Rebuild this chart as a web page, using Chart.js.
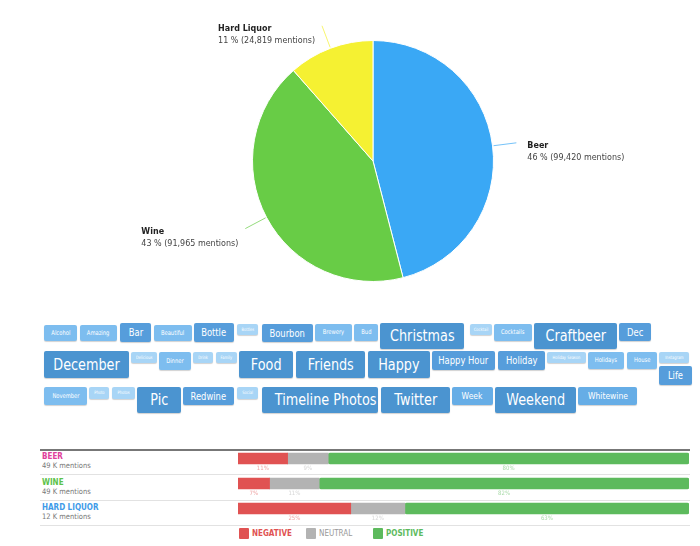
<!DOCTYPE html>
<html>
<head>
<meta charset="utf-8">
<script src="https://cdn.jsdelivr.net/npm/chart.js@4.4.0/dist/chart.umd.min.js"></script>
<style>
  body { margin: 0; background: #fff; width: 700px; height: 546px; position: relative; overflow: hidden; font-family: "DejaVu Sans", sans-serif; }
  #pie { position: absolute; left: 0; top: 0; }
  #bars { position: absolute; left: 238px; top: 446px; }
  .tag { position: absolute; color: #fff; text-align: center; border-radius: 2px; white-space: nowrap; overflow: hidden;
         font-family: "DejaVu Sans", sans-serif; box-shadow: 0 1px 1px rgba(0,0,0,0.18); }
  .tag span { display: inline-block; transform: scaleX(0.8); }
  .rule { position: absolute; left: 40px; width: 650px; height: 1px; background: #e2e2e2; }
  .cond { font-family: "DejaVu Sans Condensed", "Liberation Sans Narrow", sans-serif; font-stretch: condensed; }
  .rowname { position: absolute; left: 42px; font-size: 8px; font-weight: bold; line-height: 10px; }
  .rowsub { position: absolute; left: 42px; font-size: 7.5px; color: #777; line-height: 10px; }
  .lgbox { position: absolute; top: 528px; width: 10px; height: 11px; border-radius: 1px; }
  .lgtext { position: absolute; top: 529px; font-size: 8px; line-height: 10px; }
</style>
</head>
<body>
<canvas id="pie" width="700" height="300"></canvas>
<div id="cloud"></div>
<div id="rows"></div>
<canvas id="bars" width="451" height="75"></canvas>

<script>
// pie data
const pieLabels = ['Beer', 'Wine', 'Hard Liquor'];
const pieMentions = [99420, 91965, 24819];
const pieColors = ['#3aa8f5', '#68cc46', '#f5f132'];

// tag cloud: words and weights (1 = rare ... 5 = frequent)
const tagWords = ['Alcohol', 'Amazing', 'Bar', 'Beautiful', 'Bottle', 'Bottles', 'Bourbon', 'Brewery', 'Bud', 'Christmas',
  'Cocktail', 'Cocktails', 'Craftbeer', 'Dec', 'December', 'Delicious', 'Dinner', 'Drink', 'Family', 'Food', 'Friends',
  'Happy', 'Happy Hour', 'Holiday', 'Holiday Season', 'Holidays', 'House', 'Instagram', 'Life', 'November', 'Photo',
  'Photos', 'Pic', 'Redwine', 'Social', 'Timeline Photos', 'Twitter', 'Week', 'Weekend', 'Whitewine'];
const tagWeights = [2, 2, 4, 2, 4, 1, 4, 2, 2, 5,
  1, 2, 5, 4, 5, 1, 2, 1, 1, 5, 5,
  5, 4, 4, 1, 2, 2, 1, 4, 2, 1,
  1, 5, 4, 1, 5, 5, 3, 5, 3];

// sentiment data
const sentimentCats = ['BEER', 'WINE', 'HARD LIQUOR'];
const sentimentMentions = ['49 K mentions', '49 K mentions', '12 K mentions'];
const negative = [11, 7, 25];
const neutral = [9, 11, 12];
const positive = [80, 82, 63];

// layout of the cloud boxes [x, y, w, h]
const tagBoxes = [
  [44,325,33,16], [80,325,37,16], [120,323,31,19], [154,325,38,16], [194,323,40,19], [237,324,21,11],
  [262,324,51,18], [315,324,37,17], [354,324,24,17], [380,323,84,26], [470,324,22,11], [494,324,38,17],
  [534,323,83,26], [619,323,32,18],
  [44,351,85,27], [131,352,26,11], [159,352,32,18], [193,352,20,11], [216,352,21,11], [239,351,54,27],
  [296,351,69,27], [368,351,62,27], [432,351,63,19], [498,351,47,19], [547,352,39,11], [588,352,36,17],
  [627,352,30,17], [659,352,30,11], [659,366,33,19],
  [44,387,43,18], [89,387,20,12], [112,387,23,12], [137,387,44,26], [183,387,51,18], [237,387,21,12],
  [262,387,116,26], [381,387,69,26], [452,387,41,18], [495,387,81,26], [578,387,59,18]
];
const tagColors = { 1: '#a8d5f6', 2: '#7dbdef', 3: '#66ade6', 4: '#569ddb', 5: '#4b94d0' };
const tagFont = { 1: 4.5, 2: 6.5, 3: 9.5, 4: 10.5, 5: 16 };

const cloud = document.getElementById('cloud');
tagWords.forEach((w, i) => {
  const [x, y, bw, bh] = tagBoxes[i];
  const d = document.createElement('div');
  d.className = 'tag';
  const s = document.createElement('span');
  s.textContent = w;
  d.appendChild(s);
  d.style.cssText = `left:${x}px;top:${y}px;width:${bw}px;height:${bh}px;line-height:${bh}px;` +
    `background:${tagColors[tagWeights[i]]};font-size:${tagFont[tagWeights[i]]}px;`;
  cloud.appendChild(d);
});

// pie with leader-line labels
const pieLabelPlugin = {
  id: 'pieLabels',
  afterDatasetsDraw(chart) {
    const ctx = chart.ctx;
    const total = pieMentions.reduce((a, b) => a + b, 0);
    chart.getDatasetMeta(0).data.forEach((arc, i) => {
      const mid = (arc.startAngle + arc.endAngle) / 2;
      const r = arc.outerRadius;
      const cx = Math.cos(mid), cy = Math.sin(mid);
      const x1 = arc.x + cx * (r + 1), y1 = arc.y + cy * (r + 1);
      const x2 = arc.x + cx * (r + 24), y2 = arc.y + cy * (r + 24);
      ctx.save();
      ctx.strokeStyle = pieColors[i];
      ctx.globalAlpha = 0.7;
      ctx.lineWidth = 1;
      ctx.beginPath();
      ctx.moveTo(x1, y1);
      ctx.lineTo(x2, y2);
      ctx.stroke();
      ctx.globalAlpha = 1;

      const pct = Math.round(pieMentions[i] / total * 100);
      const sub = pct + ' % (' + pieMentions[i].toLocaleString('en-US') + ' mentions)';
      ctx.textBaseline = 'middle';
      ctx.textAlign = 'left';
      ctx.font = '8px "DejaVu Sans"';
      const subW = ctx.measureText(sub).width;
      const tx = cx > 0 ? x2 + 11 : x2 - 7 - subW;
      ctx.fillStyle = '#222';
      ctx.font = 'bold 8px "DejaVu Sans"';
      ctx.fillText(pieLabels[i], tx, y2 + 3);
      ctx.fillStyle = '#444';
      ctx.font = '8px "DejaVu Sans"';
      ctx.fillText(sub, tx, y2 + 15);
      ctx.restore();
    });
  }
};

new Chart(document.getElementById('pie'), {
  type: 'pie',
  data: {
    labels: pieLabels,
    datasets: [{ data: pieMentions, backgroundColor: pieColors, borderColor: '#fff', borderWidth: 1 }]
  },
  options: {
    responsive: false,
    animation: false,
    layout: { padding: { left: 46, right: 0, top: 40, bottom: 18 } },
    plugins: { legend: { display: false }, tooltip: { enabled: false } }
  },
  plugins: [pieLabelPlugin]
});

// sentiment rows (labels, rules, legend)
const rows = document.getElementById('rows');
const rowColors = ['#e0409a', '#5cc24a', '#3f9be8'];
let html = '<div class="rule" style="top:449px;height:1.5px;background:#777"></div>';
sentimentCats.forEach((c, i) => {
  const top = 449 + i * 25.5;
  html += `<div class="rowname cond" style="top:${top + 3}px;color:${rowColors[i]}">${c}</div>`;
  html += `<div class="rowsub cond" style="top:${top + 12}px">${sentimentMentions[i]}</div>`;
  html += `<div class="rule" style="top:${Math.round(top + 25)}px"></div>`;
});
const segColors = ['#e05252', '#b3b3b3', '#5dba5d'];
const segNames = ['NEGATIVE', 'NEUTRAL', 'POSITIVE'];
const lgX = [239, 306, 373];
segNames.forEach((n, i) => {
  html += `<div class="lgbox" style="left:${lgX[i]}px;background:${segColors[i]}"></div>`;
  html += `<div class="lgtext cond" style="left:${lgX[i] + 13}px;color:${i === 1 ? '#999' : segColors[i]};font-weight:${i === 1 ? 'normal' : 'bold'}">${n}</div>`;
});
rows.innerHTML = html;

const pctLabelPlugin = {
  id: 'pctLabels',
  afterDatasetsDraw(chart) {
    const ctx = chart.ctx;
    ctx.save();
    ctx.font = '6px "DejaVu Sans Condensed", sans-serif';
    ctx.textAlign = 'center';
    ctx.textBaseline = 'middle';
    chart.data.datasets.forEach((ds, di) => {
      chart.getDatasetMeta(di).data.forEach((bar, i) => {
        ctx.fillStyle = ds.backgroundColor;
        ctx.globalAlpha = 0.55;
        ctx.fillText(ds.data[i] + '%', (bar.x + bar.base) / 2, bar.y + 10);
      });
    });
    ctx.restore();
  }
};

new Chart(document.getElementById('bars'), {
  type: 'bar',
  data: {
    labels: sentimentCats,
    datasets: [
      { label: 'NEGATIVE', data: negative, backgroundColor: segColors[0] },
      { label: 'NEUTRAL', data: neutral, backgroundColor: segColors[1] },
      { label: 'POSITIVE', data: positive, backgroundColor: segColors[2] }
    ]
  },
  options: {
    indexAxis: 'y',
    responsive: false,
    animation: false,
    barThickness: 11,
    borderRadius: 2,
    borderSkipped: false,
    layout: { padding: 0 },
    scales: {
      x: { stacked: true, min: 0, max: 100, display: false },
      y: { stacked: true, display: false }
    },
    plugins: { legend: { display: false }, tooltip: { enabled: false } }
  },
  plugins: [pctLabelPlugin]
});
</script>
</body>
</html>
